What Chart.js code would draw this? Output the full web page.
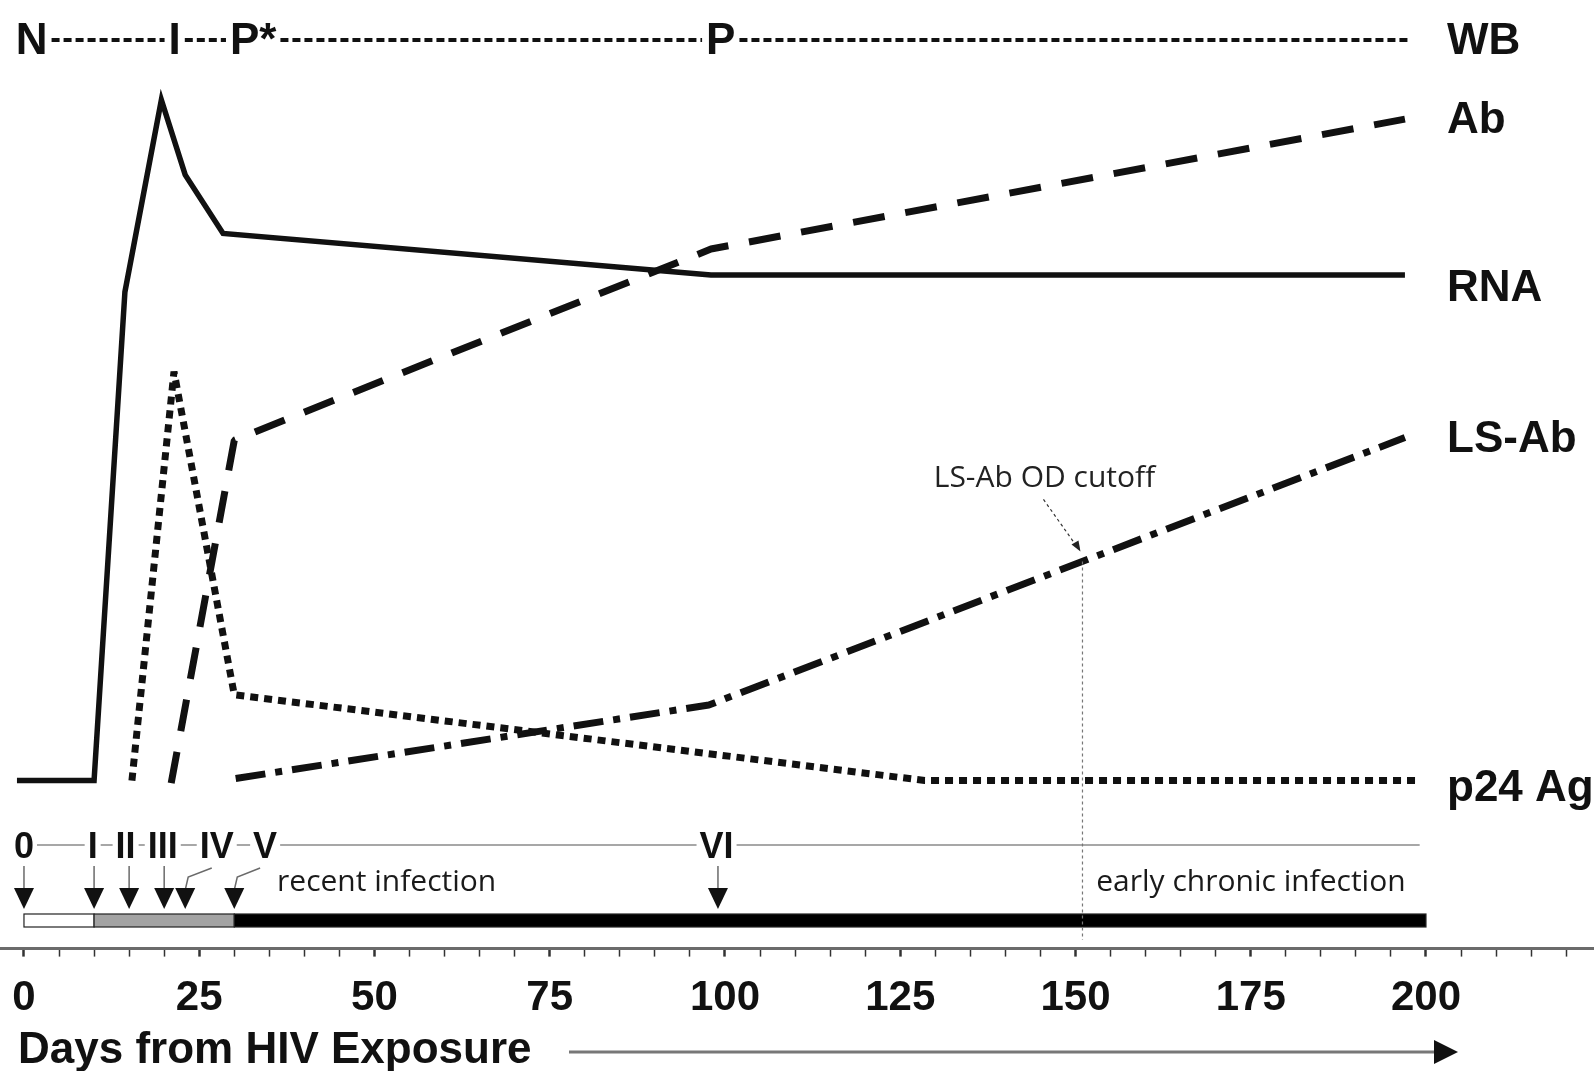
<!DOCTYPE html>
<html>
<head>
<meta charset="utf-8">
<script src="https://cdn.jsdelivr.net/npm/chart.js@4.4.1/dist/chart.umd.min.js"></script>
<style>
  html, body { margin: 0; padding: 0; background: #fff; }
  #wrap { width: 1594px; height: 1071px; position: relative; }
</style>
</head>
<body>
<div id="wrap"><canvas id="c" width="1594" height="1071"></canvas></div>
<script>
// --- data (x = days from exposure, y = relative level 0..100) ---
const rnaDays  = [-1, 10, 14.4, 19.6, 23, 28.4, 98, 197];
const rnaLevel = [0, 0, 71.8, 100, 89.0, 80.4, 74.3, 74.3];

const abDays   = [21, 30, 98, 197];
const abLevel  = [-0.4, 50.0, 78.1, 97.2];

const lsDays   = [30.2, 97.7, 197];
const lsLevel  = [0.3, 11.1, 50.4];

const p24Days  = [15.4, 21.4, 30, 128.5, 199];
const p24Level = [0, 60.1, 12.6, 0, 0];

// western blot row on top
const wbLabels = ["N", "I", "P*", "P"];
const wbDays   = [1.1, 21.5, 32.7, 99.4];
const wbEndDay = 197.4;

// Fiebig stages and arrows
const stageLabels    = ["0", "I", "II", "III", "IV", "V", "VI"];
const stageLabelDays = [0, 9.8, 14.5, 19.8, 27.5, 34.4, 98.8];
const stageArrowDays = [0, 10, 15, 20, 23, 30, 99];
const stageLineEnd   = 199.1;

// timeline bar
const phaseStart  = [0, 10, 30];
const phaseEnd    = [10, 30, 200];
const phaseColors = ["#ffffff", "#a3a3a3", "#000000"];

const cutoffDay = 151;
const tickLabels = [0, 25, 50, 75, 100, 125, 150, 175, 200];

const X_MIN = -3.42, X_MAX = 223.97;
const Y_MIN = -24.7, Y_MAX = 114.7;

const BOLD = '"Liberation Sans", Arial, Helvetica, sans-serif';
const THIN = '"Open Sans", "Noto Sans", sans-serif';
const INK = "#111";

const pts = (xs, ys) => xs.map((x, i) => ({ x, y: ys[i] }));

function series(label, xs, ys, width, dash, labelDy, join) {
  return {
    label,
    data: pts(xs, ys),
    showLine: true,
    borderColor: INK,
    backgroundColor: INK,
    borderWidth: width,
    borderDash: dash,
    borderCapStyle: "butt",
    borderJoinStyle: join || "miter",
    pointRadius: 0,
    tension: 0,
    labelDy
  };
}

function interp(xs, ys, d) {
  for (let i = 1; i < xs.length; i++) {
    if (d <= xs[i]) {
      const t = (d - xs[i - 1]) / (xs[i] - xs[i - 1]);
      return ys[i - 1] + t * (ys[i] - ys[i - 1]);
    }
  }
  return ys[ys.length - 1];
}

function arrowHead(ctx, x, yTop, w, h) {
  ctx.beginPath();
  ctx.moveTo(x - w / 2, yTop);
  ctx.lineTo(x + w / 2, yTop);
  ctx.lineTo(x, yTop + h);
  ctx.closePath();
  ctx.fill();
}

const overlay = {
  id: "overlay",
  afterDraw(chart) {
    const ctx = chart.ctx;
    const X = (d) => chart.scales.x.getPixelForValue(d);
    const Y = (v) => chart.scales.y.getPixelForValue(v);
    ctx.save();
    ctx.fillStyle = INK;
    ctx.strokeStyle = INK;

    // WB row
    ctx.font = "bold 44px " + BOLD;
    ctx.textAlign = "center";
    ctx.textBaseline = "alphabetic";
    const ext = [];
    wbLabels.forEach((t, i) => {
      const cx = X(wbDays[i]);
      const w = ctx.measureText(t).width;
      ctx.fillText(t, cx, 38 + 16);
      ext.push([cx - w / 2, cx + w / 2]);
    });
    ctx.lineWidth = 4;
    ctx.setLineDash([8, 4]);
    for (let i = 0; i < ext.length; i++) {
      const a = ext[i][1] + 4;
      const b = i + 1 < ext.length ? ext[i + 1][0] - 4 : X(wbEndDay);
      ctx.beginPath(); ctx.moveTo(a, 40); ctx.lineTo(b, 40); ctx.stroke();
    }
    ctx.setLineDash([]);

    // series labels at the right
    const labX = X(203);
    ctx.textAlign = "left";
    ctx.fillText("WB", labX, 38 + 16);
    chart.data.datasets.forEach((ds) => {
      const last = ds.data[ds.data.length - 1];
      ctx.fillText(ds.label, labX, Y(last.y) + ds.labelDy + 16);
    });

    // stage line and labels
    const rowY = 845;
    ctx.strokeStyle = "#8a8a8a";
    ctx.lineWidth = 1.5;
    ctx.beginPath(); ctx.moveTo(X(0), rowY); ctx.lineTo(X(stageLineEnd), rowY); ctx.stroke();
    ctx.font = "bold 36px " + BOLD;
    ctx.textAlign = "center";
    stageLabels.forEach((t, i) => {
      const cx = X(stageLabelDays[i]);
      const w = ctx.measureText(t).width;
      ctx.fillStyle = "#fff";
      ctx.fillRect(cx - w / 2 - 3, rowY - 16, w + 6, 32);
      ctx.fillStyle = INK;
      ctx.fillText(t, cx, rowY + 13);
    });

    // arrows
    stageArrowDays.forEach((d, i) => {
      const ax = X(d), lx = X(stageLabelDays[i]);
      ctx.strokeStyle = "#6a6a6a";
      ctx.lineWidth = 1.5;
      ctx.beginPath();
      if (Math.abs(ax - lx) < 6) {
        ctx.moveTo(ax, 866); ctx.lineTo(ax, 890);
      } else {
        ctx.moveTo(lx - 5, 868); ctx.lineTo(ax + 3, 877); ctx.lineTo(ax, 890);
      }
      ctx.stroke();
      ctx.fillStyle = INK;
      arrowHead(ctx, ax, 888, 20, 21);
    });

    // timeline bar
    const barTop = 914, barH = 13;
    phaseStart.forEach((s, i) => {
      const x0 = X(s), x1 = X(phaseEnd[i]);
      ctx.fillStyle = phaseColors[i];
      ctx.fillRect(x0, barTop, x1 - x0, barH);
      ctx.strokeStyle = "#222";
      ctx.lineWidth = 1.2;
      ctx.strokeRect(x0, barTop, x1 - x0, barH);
    });

    // phase texts
    ctx.font = "30px " + THIN;
    ctx.fillStyle = "#1a1a1a";
    ctx.textAlign = "left";
    ctx.fillText("recent infection", X(36.1), 891);
    ctx.textAlign = "right";
    ctx.fillText("early chronic infection", X(197.1), 891);

    // LS-Ab cutoff
    const cx = X(cutoffDay), cy = Y(interp(lsDays, lsLevel, cutoffDay));
    ctx.strokeStyle = "#777";
    ctx.lineWidth = 1.2;
    ctx.setLineDash([3, 3]);
    ctx.beginPath(); ctx.moveTo(cx, cy); ctx.lineTo(cx, 940); ctx.stroke();
    ctx.strokeStyle = "#333";
    ctx.beginPath(); ctx.moveTo(cx - 39, cy - 62); ctx.lineTo(cx - 5, cy - 14); ctx.stroke();
    ctx.setLineDash([]);
    ctx.fillStyle = "#222";
    ctx.beginPath();
    ctx.moveTo(cx - 2, cy - 10); ctx.lineTo(cx - 11, cy - 17); ctx.lineTo(cx - 4, cy - 21);
    ctx.closePath(); ctx.fill();
    ctx.font = "30px " + THIN;
    ctx.textAlign = "center";
    ctx.fillText("LS-Ab OD cutoff", cx - 38, cy - 74);

    // axis title and arrow
    ctx.font = "bold 44px " + BOLD;
    ctx.fillStyle = INK;
    ctx.textAlign = "left";
    ctx.fillText("Days from HIV Exposure", 18, 1047 + 16);
    ctx.strokeStyle = "#777";
    ctx.lineWidth = 3;
    ctx.beginPath(); ctx.moveTo(569, 1052); ctx.lineTo(1440, 1052); ctx.stroke();
    ctx.fillStyle = INK;
    ctx.beginPath();
    ctx.moveTo(1434, 1040); ctx.lineTo(1458, 1052); ctx.lineTo(1434, 1064);
    ctx.closePath(); ctx.fill();

    ctx.restore();
  }
};

new Chart(document.getElementById("c"), {
  type: "scatter",
  data: {
    datasets: [
      series("Ab", abDays, abLevel, 7, [32, 21], -2, "bevel"),
      series("RNA", rnaDays, rnaLevel, 5.5, [], 10, "miter"),
      series("LS-Ab", lsDays, lsLevel, 7, [30, 10, 7, 10], -2, "bevel"),
      series("p24 Ag", p24Days, p24Level, 7, [8, 6], 4, "bevel")
    ]
  },
  options: {
    responsive: false,
    animation: false,
    devicePixelRatio: 1,
    layout: { autoPadding: false, padding: { left: 0, right: 0, top: 0, bottom: 30 } },
    plugins: { legend: { display: false }, tooltip: { enabled: false } },
    scales: {
      x: {
        type: "linear",
        position: "bottom",
        min: X_MIN,
        max: X_MAX,
        afterFit: (s) => { s.paddingLeft = 0; s.paddingRight = 0; },
        border: { display: true, color: "#6b6b6b", width: 3 },
        grid: {
          display: true,
          drawOnChartArea: false,
          drawTicks: true,
          tickLength: 8,
          tickColor: "#333",
          tickWidth: (c) => (c.tick && tickLabels.includes(c.tick.value) ? 2.5 : 1.5)
        },
        ticks: {
          stepSize: 5,
          autoSkip: false,
          maxRotation: 0,
          includeBounds: false,
          padding: 17,
          color: INK,
          font: { family: BOLD, size: 42, weight: "bold" },
          callback: (v) => (tickLabels.includes(v) ? String(v) : "")
        }
      },
      y: { display: false, min: Y_MIN, max: Y_MAX }
    }
  },
  plugins: [overlay]
});
</script>
</body>
</html>
